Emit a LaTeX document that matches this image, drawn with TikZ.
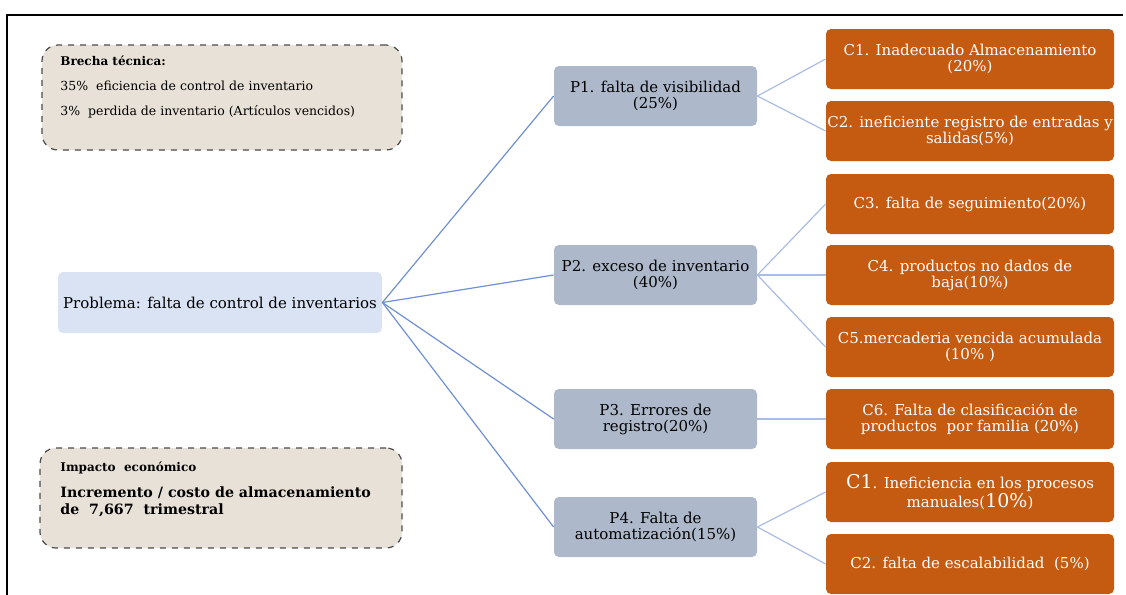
\documentclass[tikz,border=0pt]{standalone}
\usepackage{fontspec}
\setmainfont{DejaVu Serif}
\usetikzlibrary{calc}
\definecolor{causacol}{HTML}{C55A11}
\definecolor{problcol}{HTML}{ADB9CA}
\definecolor{raizcol}{HTML}{DAE3F3}
\definecolor{notacol}{HTML}{E8E1D7}
\definecolor{ramacol}{HTML}{6F90D2}
\definecolor{ramitacol}{HTML}{A9BCE4}
\tikzset{>=stealth,
  pbox/.style={rounded corners=2.5pt, fill=problcol, minimum width=101.5pt, minimum height=30pt,
    align=center, inner sep=0pt, font=\fontsize{7.5}{8}\selectfont},
  cbox/.style={rounded corners=2.5pt, fill=causacol, text=white, minimum width=144pt, minimum height=30pt,
    align=center, inner sep=0pt, font=\fontsize{7.5}{8}\selectfont},
  notebox/.style={rounded corners=8pt, fill=notacol, draw=black!70, dashed, line width=0.6pt},
  notetxt/.style={anchor=base west, inner sep=0pt, font=\fontsize{6.25}{7}\selectfont},
  rama/.style={draw=ramacol, line width=0.6pt},
  ramita/.style={draw=ramitacol, line width=0.6pt}}

\begin{document}
\begin{tikzpicture}[x=0.5pt,y=-0.5pt]
    \useasboundingbox (0,0) rectangle (1126,595);
    \draw[line width=0.8pt] (1123,15) -- (7,15) -- (7,595);

    % cuadros de nota
    \node[notebox, minimum width=180pt, minimum height=52.5pt] (brecha) at (222,97.5) {};
    \node[notetxt, font=\fontsize{6}{7}\selectfont\bfseries] (b1) at (60,65) {Brecha técnica:};
    \node[notetxt] (b2) at (60,90) {35\%~ eficiencia de control de inventario};
    \node[notetxt] (b3) at (60,115) {3\%~ perdida de inventario (Artículos vencidos)};

    \node[notebox, minimum width=181pt, minimum height=50pt] (impacto) at (221,498) {};
    \node[notetxt, font=\fontsize{6}{7}\selectfont\bfseries] (i1) at (60,471) {Impacto~ económico};
    \node[notetxt, font=\fontsize{7.1}{8}\selectfont\bfseries] (i2) at (60,497) {Incremento / costo de almacenamiento};
    \node[notetxt, font=\fontsize{7.1}{8}\selectfont\bfseries] (i3) at (60,514) {de~ 7,667~ trimestral};

    % problema central
    \node[rounded corners=2.5pt, fill=raizcol, minimum width=162pt, minimum height=30.5pt,
      inner sep=0pt, font=\fontsize{7.5}{8}\selectfont] (prob) at (220,302.5)
      {Problema: falta de control de inventarios};

    % problemas
    \node[pbox] (p1) at (655.5,96)  {P1. falta de visibilidad\\(25\%)};
    \node[pbox] (p2) at (655.5,275) {P2. exceso de inventario\\(40\%)};
    \node[pbox] (p3) at (655.5,419) {P3. Errores de\\registro(20\%)};
    \node[pbox] (p4) at (655.5,527) {P4. Falta de\\automatización(15\%)};

    % causas
    \node[cbox] (c1) at (970,59)  {C1. Inadecuado Almacenamiento\\(20\%)};
    \node[cbox] (c2) at (970,131) {C2. ineficiente registro de entradas y\\salidas(5\%)};
    \node[cbox] (c3) at (970,204) {C3. falta de seguimiento(20\%)};
    \node[cbox] (c4) at (970,275) {C4. productos no dados de\\baja(10\%)};
    \node[cbox] (c5) at (970,347) {C5.mercaderia vencida acumulada\\(10\% )};
    \node[cbox] (c6) at (970,419) {C6. Falta de clasificación de\\productos~ por familia (20\%)};
    \node[cbox] (c7) at (970,492) {{\fontsize{9.5}{10}\selectfont C1}. Ineficiencia en los procesos\\manuales({\fontsize{9.5}{10}\selectfont 10\%})};
    \node[cbox] (c8) at (970,564) {C2. falta de escalabilidad~ (5\%)};

    \foreach \p in {p1,p2,p3,p4}
      \draw[rama] (prob.east) -- (\p.west);
    \foreach \p/\c in {p1/c1,p1/c2,p2/c3,p2/c4,p2/c5,p3/c6,p4/c7,p4/c8}
      \draw[ramita] (\p.east) -- (\c.west);
\end{tikzpicture}
\end{document}
